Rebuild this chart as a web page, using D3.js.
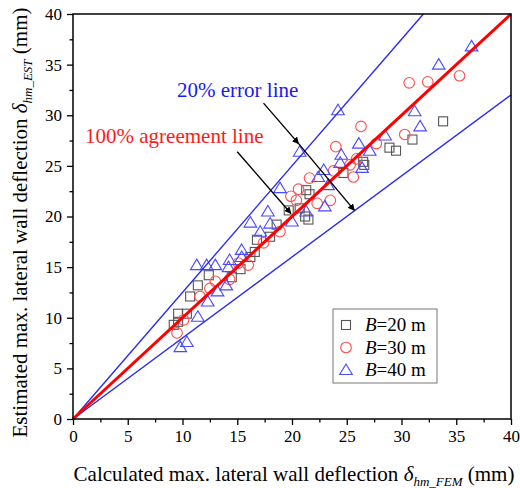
<!DOCTYPE html>
<html>
<head>
<meta charset="utf-8">
<script src="https://cdn.jsdelivr.net/npm/d3@7"></script>
<style>
  html, body { margin: 0; padding: 0; background: #fff; }
  svg text { font-family: "Liberation Serif", "Times New Roman", serif; }
</style>
</head>
<body>
<div id="chart"></div>
<script>
// B = 20 m (squares)  [calculated, estimated]
const b20 = [
  [33.8, 29.4], [31.0, 27.6], [28.9, 26.8], [29.5, 26.5], [26.5, 25.4], [26.6, 25.1],
  [24.7, 24.3], [21.3, 22.6], [21.6, 22.2], [21.2, 20.0], [21.5, 19.7], [19.7, 20.6],
  [20.7, 20.8], [18.6, 19.2], [18.0, 18.0], [16.8, 17.7], [16.2, 16.0], [16.6, 16.5],
  [15.3, 14.8], [14.5, 14.0], [12.4, 14.2], [11.4, 13.2], [10.7, 12.1], [10.4, 10.4],
  [9.6, 10.4], [9.2, 9.3], [9.6, 9.6]
];
// B = 30 m (circles)
const b30 = [
  [35.3, 33.9], [32.4, 33.3], [30.7, 33.2], [26.3, 28.9], [30.3, 28.1], [27.7, 27.2],
  [24.0, 26.9], [25.9, 25.7], [25.3, 25.1], [25.6, 23.9], [23.8, 24.5], [21.6, 23.8],
  [20.6, 22.7], [19.9, 22.0], [20.4, 21.6], [22.3, 21.3], [23.5, 21.6], [18.9, 18.5],
  [17.4, 17.4], [16.0, 15.2], [15.1, 15.4], [14.3, 13.8], [13.0, 13.6], [12.5, 12.9],
  [11.6, 12.1], [10.1, 9.8], [9.5, 8.5]
];
// B = 40 m (triangles)
const b40 = [
  [36.4, 36.8], [33.4, 35.0], [24.2, 30.5], [31.2, 30.4], [31.7, 28.9], [28.5, 28.0],
  [26.1, 27.2], [27.1, 26.5], [24.5, 26.1], [24.4, 25.3], [26.4, 24.8], [22.9, 24.6],
  [22.4, 23.9], [23.3, 23.1], [20.7, 26.4], [18.9, 22.8], [23.0, 21.0], [17.8, 20.5],
  [16.2, 19.4], [18.0, 19.3], [17.1, 18.5], [20.0, 19.5], [21.3, 20.5], [15.4, 16.7],
  [14.3, 15.7], [15.4, 16.0], [11.3, 15.2], [12.2, 15.2], [13.0, 15.2], [14.2, 15.0],
  [14.0, 13.2], [13.2, 12.6], [12.3, 11.6], [11.4, 10.1], [10.4, 7.6], [9.8, 7.1]
];

const legendLabels = ["=20 m", "=30 m", "=40 m"];
const majorTicks = [0, 5, 10, 15, 20, 25, 30, 35, 40];
const minorTicks = [2.5, 7.5, 12.5, 17.5, 22.5, 27.5, 32.5, 37.5];

const W = 520, H = 488;
const margin = {top: 14, right: 9, bottom: 69, left: 73};
const width = W - margin.left - margin.right;
const height = H - margin.top - margin.bottom;

const svg = d3.select('#chart').append('svg')
  .attr('width', W).attr('height', H);

const g = svg.append('g')
  .attr('transform', 'translate(' + margin.left + ',' + margin.top + ')');

const x = d3.scaleLinear().domain([0, 40]).range([0, width]);
const y = d3.scaleLinear().domain([0, 40]).range([height, 0]);

// arrow head
svg.append('defs').append('marker')
  .attr('id', 'arrow')
  .attr('viewBox', '0 0 10 10')
  .attr('refX', 9).attr('refY', 5)
  .attr('markerWidth', 7).attr('markerHeight', 7)
  .attr('markerUnits', 'userSpaceOnUse')
  .attr('orient', 'auto')
  .append('path').attr('d', 'M0,0 L10,5 L0,10 z').attr('fill', '#000');

// axes
g.append('g').attr('transform', 'translate(0,' + height + ')')
  .call(d3.axisBottom(x).tickValues(majorTicks).tickSize(6).tickPadding(5));
g.append('g').attr('transform', 'translate(0,' + height + ')')
  .call(d3.axisBottom(x).tickValues(minorTicks).tickSize(3.5).tickFormat(''));
g.append('g')
  .call(d3.axisLeft(y).tickValues(majorTicks).tickSize(6).tickPadding(5));
g.append('g')
  .call(d3.axisLeft(y).tickValues(minorTicks).tickSize(3.5).tickFormat(''));

g.selectAll('.domain').remove();
g.selectAll('.tick line').attr('stroke', '#000').attr('stroke-width', 1.3);
g.selectAll('.tick text')
  .style('font-family', '"Liberation Serif", "Times New Roman", serif')
  .style('font-size', '17px').attr('fill', '#000');

// markers
const sq = 9;
g.append('g').selectAll('rect').data(b20).enter().append('rect')
  .attr('x', d => x(d[0]) - sq / 2).attr('y', d => y(d[1]) - sq / 2)
  .attr('width', sq).attr('height', sq)
  .attr('fill', 'none').attr('stroke', '#555').attr('stroke-width', 1.1);

g.append('g').selectAll('circle').data(b30).enter().append('circle')
  .attr('cx', d => x(d[0])).attr('cy', d => y(d[1])).attr('r', 5.3)
  .attr('fill', 'none').attr('stroke', '#ff4d4d').attr('stroke-width', 1.1);

const tri = 'M0,-6 L6.3,4.5 L-6.3,4.5 Z';
g.append('g').selectAll('path').data(b40).enter().append('path')
  .attr('d', tri)
  .attr('transform', d => 'translate(' + x(d[0]) + ',' + y(d[1]) + ')')
  .attr('fill', 'none').attr('stroke', '#4a4aff').attr('stroke-width', 1.1);

// reference lines
const line = d3.line().x(d => x(d[0])).y(d => y(d[1]));
g.append('path').attr('d', line([[0, 0], [32, 40]]))
  .attr('stroke', '#2a2aee').attr('stroke-width', 1.4).attr('fill', 'none');
g.append('path').attr('d', line([[0, 0], [40, 32]]))
  .attr('stroke', '#2a2aee').attr('stroke-width', 1.4).attr('fill', 'none');
g.append('path').attr('d', line([[0, 0], [40, 40]]))
  .attr('stroke', '#ff0000').attr('stroke-width', 3).attr('fill', 'none');

// frame
g.append('rect').attr('width', width).attr('height', height)
  .attr('fill', 'none').attr('stroke', '#000').attr('stroke-width', 1.5);

// annotations
g.append('text').attr('x', x(9.5)).attr('y', y(31.8))
  .attr('fill', '#1a1aee').style('font-size', '21px').text('20% error line');
g.append('text').attr('x', x(1.1)).attr('y', y(27.3))
  .attr('fill', '#ff1a1a').style('font-size', '21px').text('100% agreement line');

// 20% arrows: one to the upper line, continuing to the lower line
const a0 = [17.4, 31.2], a1 = [20.6, 27.2], a2 = [25.7, 20.6];
g.append('path').attr('d', line([a0, a1]))
  .attr('stroke', '#000').attr('stroke-width', 1.4).attr('fill', 'none')
  .attr('marker-end', 'url(#arrow)');
g.append('path').attr('d', line([a1, a2]))
  .attr('stroke', '#000').attr('stroke-width', 1.4).attr('fill', 'none')
  .attr('marker-end', 'url(#arrow)');
// 100% arrow
g.append('path').attr('d', line([[15.0, 26.4], [19.9, 20.3]]))
  .attr('stroke', '#000').attr('stroke-width', 1.4).attr('fill', 'none')
  .attr('marker-end', 'url(#arrow)');

// legend
const lg = svg.append('g').attr('transform', 'translate(333,309)');
lg.append('rect').attr('width', 104).attr('height', 74)
  .attr('fill', '#fff').attr('stroke', '#777').attr('stroke-width', 1);
const rows = lg.selectAll('.row').data(legendLabels).enter().append('g')
  .attr('transform', (d, i) => 'translate(13,' + (16 + i * 22.5) + ')');
rows.filter((d, i) => i === 0).append('rect')
  .attr('x', -sq / 2).attr('y', -sq / 2).attr('width', sq).attr('height', sq)
  .attr('fill', 'none').attr('stroke', '#555').attr('stroke-width', 1.1);
rows.filter((d, i) => i === 1).append('circle').attr('r', 5.3)
  .attr('fill', 'none').attr('stroke', '#ff4d4d').attr('stroke-width', 1.1);
rows.filter((d, i) => i === 2).append('path').attr('d', tri)
  .attr('fill', 'none').attr('stroke', '#4a4aff').attr('stroke-width', 1.1);
const lt = rows.append('text').attr('x', 19).attr('y', 6)
  .style('font-size', '19px').attr('fill', '#000');
lt.append('tspan').style('font-style', 'italic').text('B');
lt.append('tspan').text(d => d);

// axis titles
const xt = svg.append('text').attr('x', margin.left + width / 2 + 2).attr('y', 481)
  .attr('text-anchor', 'middle').style('font-size', '21px').attr('fill', '#000');
xt.append('tspan').text('Calculated max. lateral wall deflection ');
xt.append('tspan').style('font-style', 'italic').text('δ');
xt.append('tspan').style('font-style', 'italic').style('font-size', '13px')
  .attr('dy', 5).text('hm_FEM');
xt.append('tspan').attr('dy', -5).text('  (mm)');

const yt = svg.append('text')
  .attr('transform', 'translate(27,' + (margin.top + height / 2 + 6) + ') rotate(-90)')
  .attr('text-anchor', 'middle').style('font-size', '21px').attr('fill', '#000');
yt.append('tspan').text('Estimated max. lateral wall deflection ');
yt.append('tspan').style('font-style', 'italic').text('δ');
yt.append('tspan').style('font-style', 'italic').style('font-size', '13px')
  .attr('dy', 5).text('hm_EST');
yt.append('tspan').attr('dy', -5).text(' (mm)');
</script>
</body>
</html>
